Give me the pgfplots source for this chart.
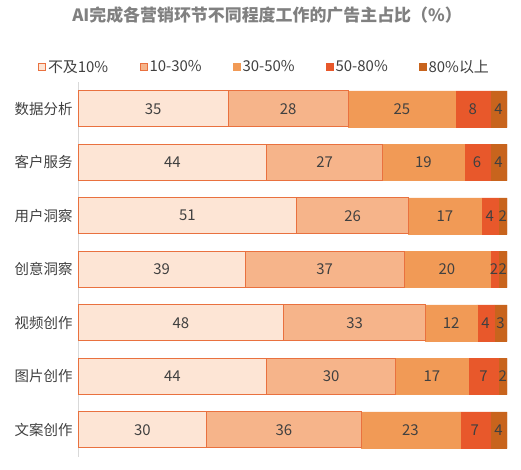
\documentclass[border=0pt]{standalone}
\usepackage{fontspec}
\setmainfont{Noto Sans CJK SC}
\usepackage{pgfplots}
\usepackage{pgfplotstable}
\pgfplotsset{compat=1.18}

\definecolor{c1}{HTML}{FDE5D5}
\definecolor{c2}{HTML}{F6B48A}
\definecolor{c3}{HTML}{F19A56}
\definecolor{c4}{HTML}{E8582B}
\definecolor{c5}{HTML}{C8641D}
\definecolor{edge}{HTML}{E9713F}
\definecolor{txt}{HTML}{404040}

\pgfplotstableread{
y s1 s2 s3 s4 s5
0 35 28 25 8 4
1 44 27 19 6 4
2 51 26 17 4 2
3 39 37 20 2 2
4 48 33 12 4 3
5 44 30 17 7 2
6 30 36 23 7 4
}\shares

\begin{document}
\begin{tikzpicture}
\begin{axis}[
    name=ax,
    scale only axis,
    width=429bp, height=374.5bp,
    xbar stacked,
    bar width=36bp,
    xmin=0, xmax=100,
    ymin=-0.5, ymax=6.5,
    y dir=reverse,
    axis x line=none,
    axis y line*=left,
    y axis line style={draw=black!15},
    ytick={0,...,6},
    yticklabels={数据分析,客户服务,用户洞察,创意洞察,视频创作,图片创作,文案创作},
    ytick style={draw=none},
    yticklabel style={font=\fontsize{14.5}{17}\selectfont, text=txt, xshift=-2bp},
    nodes near coords,
    every node near coord/.append style={font=\fontsize{15}{17}\selectfont, text=txt},
    /pgf/number format/assume math mode=true,
    legend columns=5,
    legend style={draw=none, fill=none, at={(0.5,1)}, anchor=center,
        xshift=-28bp, yshift=15bp,
        font=\fontsize{15}{17}\selectfont, text=txt,
        /tikz/every even column/.append style={column sep=29.5bp},
        /tikz/every odd column/.append style={column sep=0bp}},
    legend image code/.code={\draw[#1] (0bp,-3.5bp) rectangle (7bp,3.5bp);},
]
\addplot[fill=c1, draw=edge, line width=0.9bp] table[x=s1, y=y] {\shares};
\addlegendentry{不及10\%}
\addplot[fill=c2, draw=edge, line width=0.9bp] table[x=s2, y=y] {\shares};
\addlegendentry{10-30\%}
\addplot[fill=c3, draw=c3] table[x=s3, y=y] {\shares};
\addlegendentry{30-50\%}
\addplot[fill=c4, draw=c4] table[x=s4, y=y] {\shares};
\addlegendentry{50-80\%}
\addplot[fill=c5, draw=c5] table[x=s5, y=y] {\shares};
\addlegendentry{80\%以上}
\end{axis}
\node[font=\bfseries\fontsize{17}{20}\selectfont, text=black!50]
    at ([xshift=189bp, yshift=67bp]ax.north west) {AI完成各营销环节不同程度工作的广告主占比（\%）};
\path ([xshift=-78bp, yshift=-13bp]ax.south west) rectangle ([xshift=14bp, yshift=82bp]ax.north east);
\end{tikzpicture}
\end{document}
